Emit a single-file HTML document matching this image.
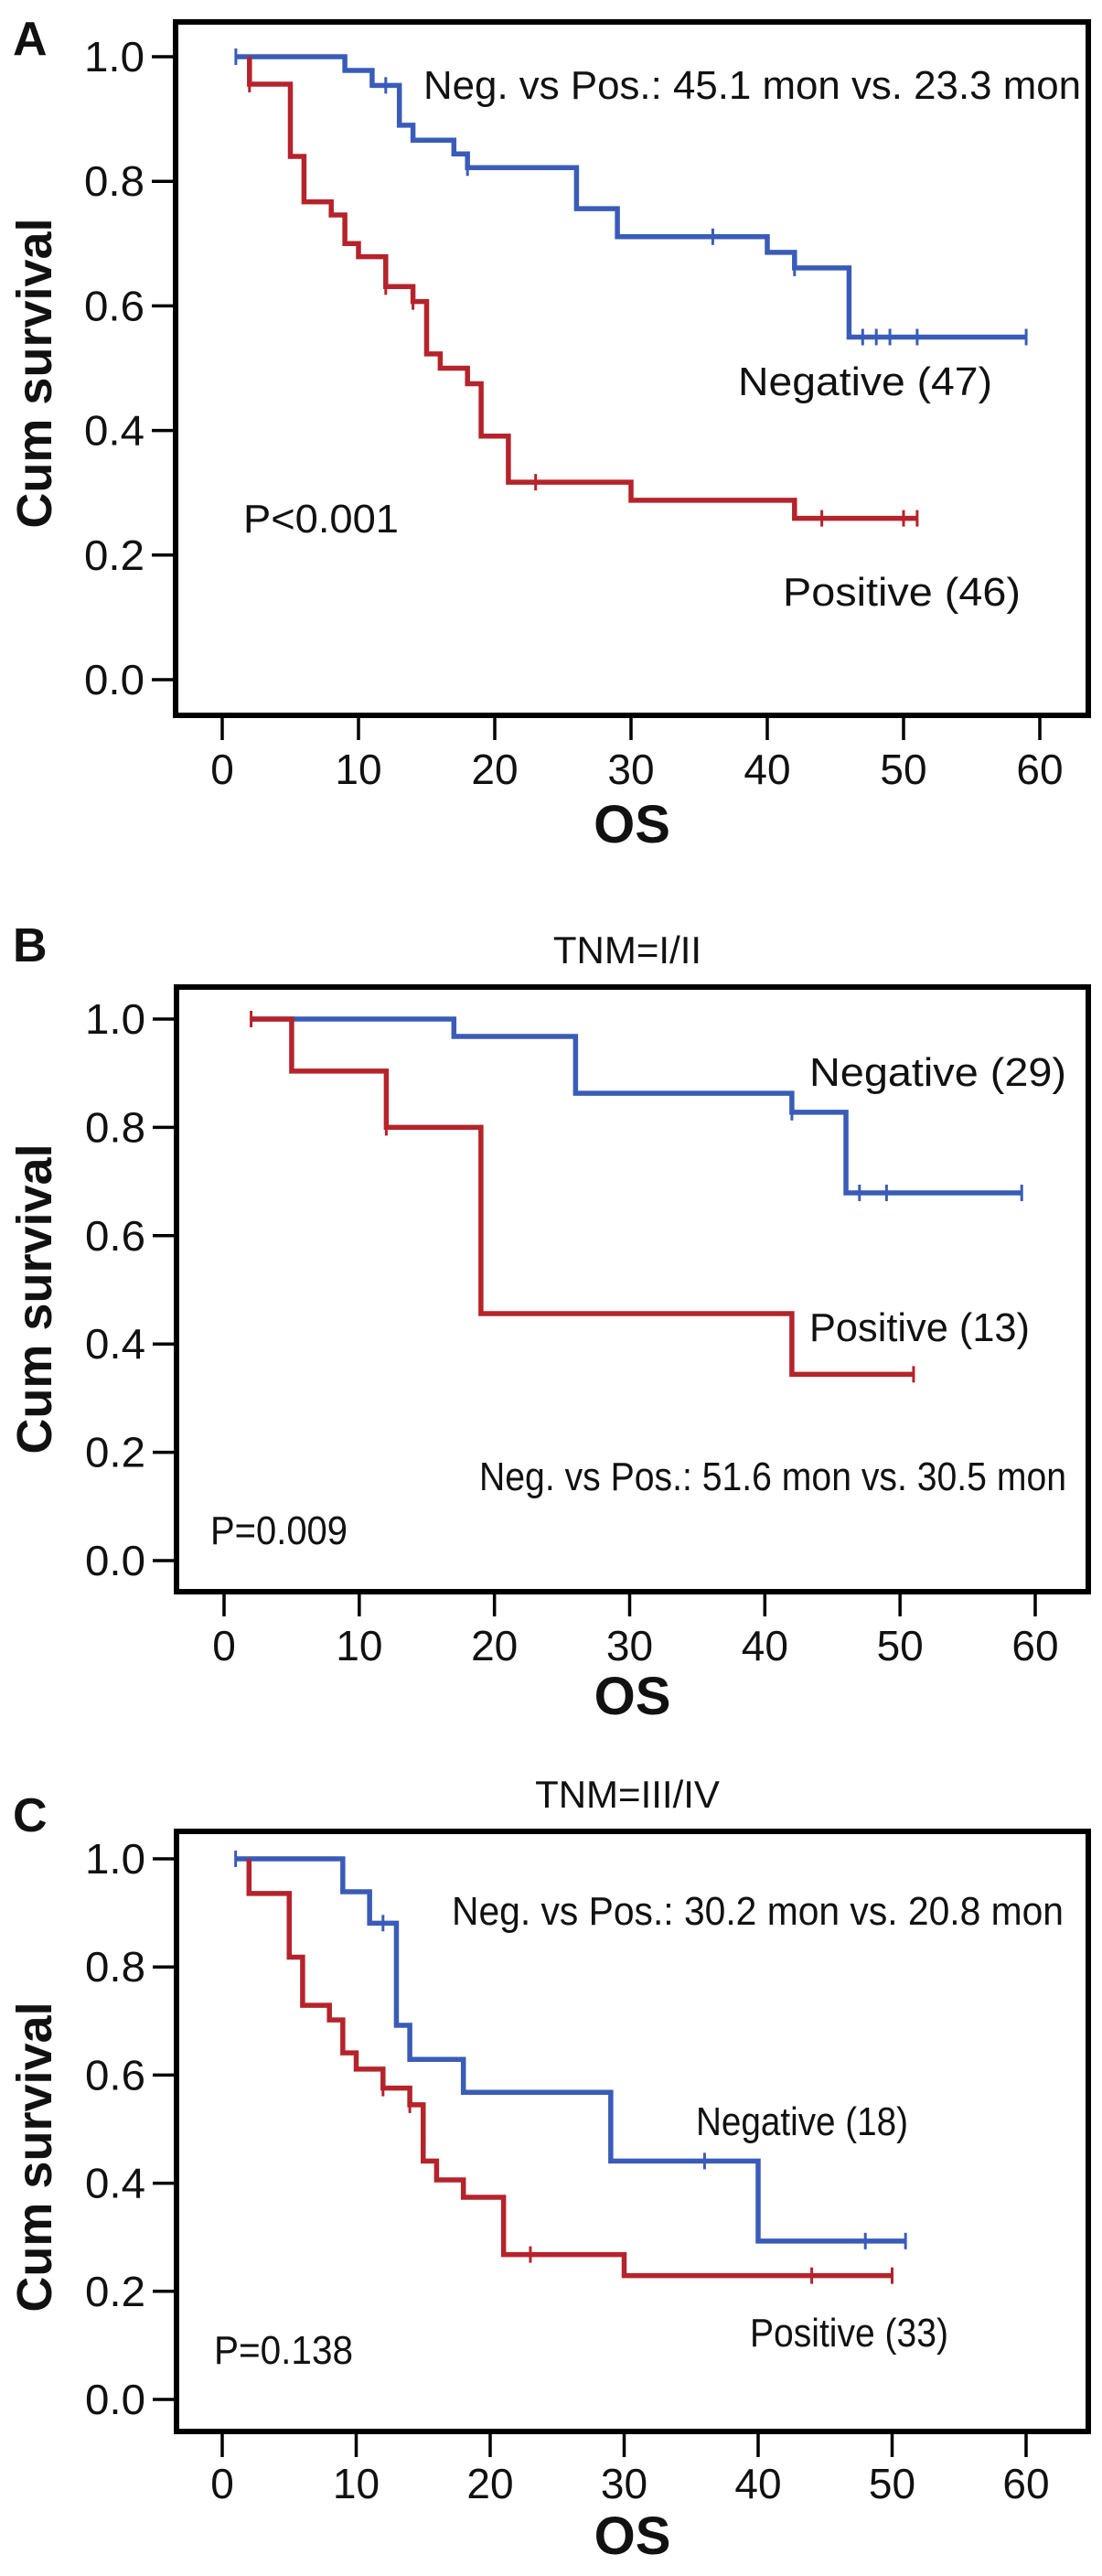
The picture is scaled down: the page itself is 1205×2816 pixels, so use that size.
<!DOCTYPE html>
<html><head><meta charset="utf-8">
<style>
html,body{margin:0;padding:0;background:#fff;}
svg{display:block;}
text{font-family:"Liberation Sans",sans-serif;fill:#111;}
</style></head>
<body>
<svg id="fig" width="1205" height="2816" viewBox="0 0 1205 2816" xmlns="http://www.w3.org/2000/svg"></svg>
<script>
// ---- Data (months, cumulative survival) ----
const xTicks = [0,10,20,30,40,50,60];
const yTicks = [0,0.2,0.4,0.6,0.8,1.0];
const yTickLabels = ["0.0","0.2","0.4","0.6","0.8","1.0"];

const aNegTimes = [1,9,11,13,14,17,18,26,29,40,42,46,59];
const aNegSurv  = [1.0,0.978,0.954,0.89,0.866,0.844,0.822,0.756,0.711,0.686,0.661,0.55,0.55];
const aNegCens  = [1,12,18,36,42,47,48,49,51,59];
const aPosTimes = [2,2,5,6,8,9,10,12,14,15,16,18,19,21,30,42,51];
const aPosSurv  = [1.0,0.956,0.84,0.767,0.746,0.70,0.679,0.631,0.607,0.523,0.5,0.475,0.391,0.317,0.288,0.259,0.259];
const aPosCens  = [2,12,14,23,44,50,51];

const bNegTimes = [2,17,26,42,46,59];
const bNegSurv  = [1.0,0.968,0.863,0.828,0.679,0.679];
const bNegCens  = [42,47,49,59];
const bPosTimes = [2,5,12,19,42,51];
const bPosSurv  = [1.0,0.904,0.80,0.456,0.344,0.344];
const bPosCens  = [2,12,51];

const cNegTimes = [1,9,11,13,14,18,29,40,51];
const cNegSurv  = [1.0,0.939,0.881,0.692,0.629,0.568,0.441,0.293,0.293];
const cNegCens  = [1,12,36,48,51];
const cPosTimes = [2,2,5,6,8,9,10,12,14,15,16,18,21,30,50];
const cPosSurv  = [1.0,0.936,0.818,0.729,0.702,0.641,0.611,0.576,0.545,0.441,0.406,0.374,0.268,0.229,0.229];
const cPosCens  = [12,14,23,44,50];

const NS="http://www.w3.org/2000/svg";
const svg=document.getElementById('fig');
function el(tag,attrs,parent,txt){const e=document.createElementNS(NS,tag);for(const k in attrs)e.setAttribute(k,attrs[k]);if(txt!==undefined)e.textContent=txt;(parent||svg).appendChild(e);return e;}

function panel(p){
  const g=el('g',{});
  
  
  const X=v=>p.x0+(p.x60-p.x0)*v/60;
  const Y=v=>p.y0+(p.y1-p.y0)*v;
  const box=el('rect',{x:p.left,y:p.top,width:p.right-p.left,height:p.bottom-p.top,fill:'none',stroke:'#000','stroke-width':6},g);
  
  
  yTicks.forEach((v,i)=>{
    const t=el('line',{x1:p.left-26,x2:p.left,y1:Y(v),y2:Y(v),stroke:'#000','stroke-width':3.5},g);
    
    
    const l=el('text',{x:p.left-34,y:Y(v)+16,'text-anchor':'end','font-size':46,textLength:66,lengthAdjust:'spacingAndGlyphs'},g,yTickLabels[i]);
    
    
  });
  xTicks.forEach(v=>{
    const t=el('line',{x1:X(v),x2:X(v),y1:p.bottom,y2:p.bottom+p.tickLen,stroke:'#000','stroke-width':3.5},g);
    
    
    const l=el('text',{x:X(v),y:p.xLabY,'text-anchor':'middle','font-size':46},g,String(v));
    
    
  });
  const os=el('text',{x:(p.left+p.right)/2,y:p.osY,'text-anchor':'middle','font-size':58,'font-weight':'bold'},g,'OS');
  
  
  const cy=el('text',{x:0,y:0,'text-anchor':'middle','font-size':54,'font-weight':'bold',transform:`translate(56,${p.cumY}) rotate(-90)`},g,'Cum survival');
  
  
  const lt=el('text',{x:14,y:p.letterY,'font-size':52,'font-weight':'bold'},g,p.id);
  
  
  if(p.title){
    const tt=el('text',{x:686,y:p.titleY,'text-anchor':'middle','font-size':42},g,p.title);
    
    
  }
  p.series.forEach(s=>{
    let d=`M${X(s.t[0])},${Y(s.s[0])}`;
    for(let i=1;i<s.t.length;i++){d+=` H${X(s.t[i])} V${Y(s.s[i])}`;}
    const path=el('path',{d:d,fill:'none',stroke:s.color,'stroke-width':5.5},g);
    
    
    s.c.forEach(ct=>{
      let v=s.s[0];
      for(let i=0;i<s.t.length;i++){if(s.t[i]<=ct)v=s.s[i];}
      const m=el('line',{x1:X(ct),x2:X(ct),y1:Y(v)-9,y2:Y(v)+9,stroke:s.color,'stroke-width':3},g);
      
      
    });
  });
  p.labels.forEach(a=>{
    const t=el('text',{x:a.x,y:a.y,'font-size':44,textLength:a.w,lengthAdjust:'spacingAndGlyphs'},g,a.txt);
    
    
  });
}

panel({id:'A',left:192,right:1190,top:24,bottom:782,x0:243,x60:1137,y0:743,y1:62,tickLen:27,xLabY:857,osY:921,cumY:408,letterY:60,
  series:[{name:'negative',t:aNegTimes,s:aNegSurv,c:aNegCens,color:'#3a5cb8'},{name:'positive',t:aPosTimes,s:aPosSurv,c:aPosCens,color:'#b5232b'}],
  labels:[{txt:'Neg. vs Pos.: 45.1 mon vs. 23.3 mon',x:463,y:108,w:719,name:'median-comparison'},
          {txt:'Negative (47)',x:807,y:432,w:278,name:'negative-label'},
          {txt:'P<0.001',x:266,y:582,w:170,name:'p-value'},
          {txt:'Positive (46)',x:856,y:662,w:260,name:'positive-label'}]});

panel({id:'B',title:'TNM=I/II',titleY:1053,left:193,right:1190,top:1079,bottom:1740,x0:245,x60:1132,y0:1706,y1:1114,tickLen:27,xLabY:1815,osY:1874,cumY:1420,letterY:1051,
  series:[{name:'negative',t:bNegTimes,s:bNegSurv,c:bNegCens,color:'#3a5cb8'},{name:'positive',t:bPosTimes,s:bPosSurv,c:bPosCens,color:'#b5232b'}],
  labels:[{txt:'Negative (29)',x:885,y:1187,w:281,name:'negative-label'},
          {txt:'Positive (13)',x:885,y:1466,w:241,name:'positive-label'},
          {txt:'Neg. vs Pos.: 51.6 mon vs. 30.5 mon',x:524,y:1629,w:642,name:'median-comparison'},
          {txt:'P=0.009',x:230,y:1688,w:150,name:'p-value'}]});

panel({id:'C',title:'TNM=III/IV',titleY:1976,left:193,right:1190,top:2002,bottom:2658,x0:243,x60:1122,y0:2623,y1:2032,tickLen:28,xLabY:2731,osY:2792,cumY:2358,letterY:2002,
  series:[{name:'negative',t:cNegTimes,s:cNegSurv,c:cNegCens,color:'#3a5cb8'},{name:'positive',t:cPosTimes,s:cPosSurv,c:cPosCens,color:'#b5232b'}],
  labels:[{txt:'Neg. vs Pos.: 30.2 mon vs. 20.8 mon',x:494,y:2104,w:669,name:'median-comparison'},
          {txt:'Negative (18)',x:761,y:2334,w:232,name:'negative-label'},
          {txt:'Positive (33)',x:820,y:2565,w:217,name:'positive-label'},
          {txt:'P=0.138',x:234,y:2584,w:152,name:'p-value'}]});
</script>
</body></html>
